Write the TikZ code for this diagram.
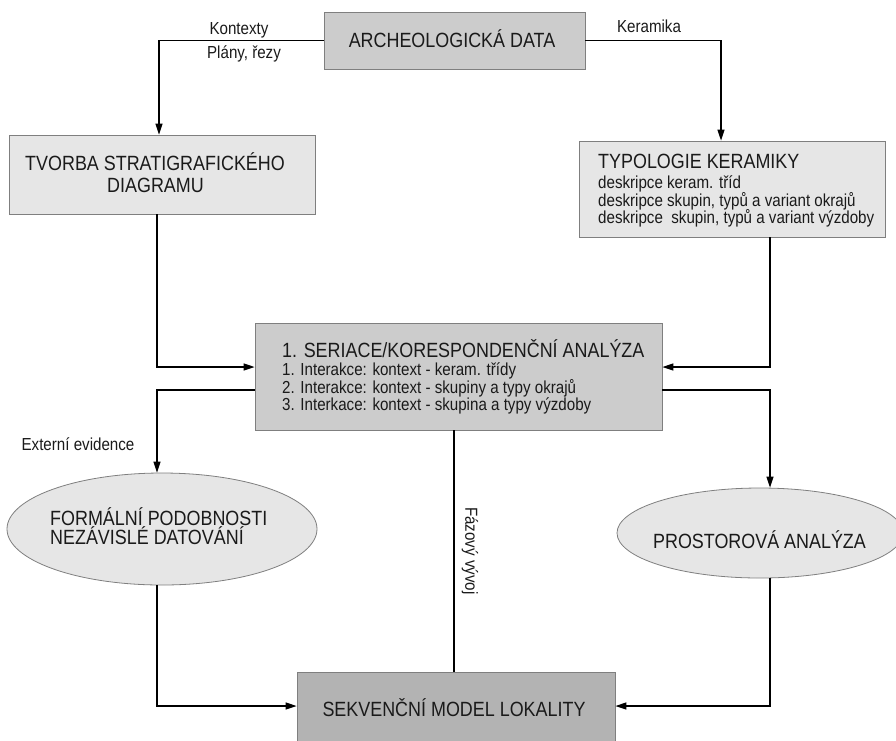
\documentclass[tikz,border=0pt]{standalone}
\usepackage{fontspec}
\setmainfont{Liberation Sans}[FakeStretch=0.87]
\usetikzlibrary{arrows.meta,shapes.geometric}

\definecolor{edgegray}{HTML}{7F7F7F}
\definecolor{midgray}{HTML}{CCCCCC}
\definecolor{palegray}{HTML}{E6E6E6}
\definecolor{darkgray}{HTML}{B3B3B3}
\definecolor{ink}{HTML}{1A1A1A}

\newcommand\headtxt{\fontsize{20.6}{24}\selectfont}
\newcommand\notetxt{\fontsize{17.4}{20}\selectfont}

\begin{document}
\begin{tikzpicture}[x=1pt,y=-1pt,
  shapebox/.style={draw=edgegray, line width=0.8pt, rectangle, inner sep=0pt},
  oval/.style={draw=edgegray, line width=0.8pt, ellipse, inner sep=0pt, fill=palegray},
  link/.style={line width=1.2pt, draw=black},
  arr/.style={link, -{Triangle[length=11pt,width=7pt]}},
  head/.style={font=\headtxt, text=ink, inner sep=0pt, anchor=base},
  headL/.style={head, anchor=base west},
  note/.style={font=\notetxt, text=ink, inner sep=0pt, anchor=base},
  noteL/.style={note, anchor=base west},
]
\useasboundingbox (0,0) rectangle (896,740);
\clip (0,0) rectangle (896,740);

% boxes and ovals
\node[shapebox, fill=midgray, minimum width=261pt, minimum height=57pt] (arch) at (454.5,40.5) {};
\node[shapebox, fill=palegray, minimum width=306pt, minimum height=79pt] (tvorba) at (162,174.5) {};
\node[shapebox, fill=palegray, minimum width=306pt, minimum height=96pt] (typo) at (732,189) {};
\node[shapebox, fill=midgray, minimum width=407pt, minimum height=107pt] (seri) at (458.5,376.5) {};
\node[oval, minimum width=310pt, minimum height=112pt] (formal) at (162,529) {};
\node[oval, minimum width=286pt, minimum height=90pt] (prostor) at (760,533) {};
\node[shapebox, fill=darkgray, minimum width=318pt, minimum height=88pt] (sekv) at (456,716) {};

% texts inside the shapes
\node[head] (archT) at (452,47) {ARCHEOLOGICKÁ DATA};
\node[head] (tvorbaT1) at (155,170) {TVORBA STRATIGRAFICKÉHO};
\node[head] (tvorbaT2) at (155.5,192) {DIAGRAMU};
\node[headL] (typoT1) at (598,168) {TYPOLOGIE KERAMIKY};
\node[noteL] (typoT2) at (598,188) {deskripce keram. tříd};
\node[noteL] (typoT3) at (598,206) {deskripce skupin, typů a variant okrajů};
\node[noteL] (typoT4) at (598,223) {deskripce\ \ skupin, typů a variant výzdoby};
\node[headL] (seriT1) at (282,357) {1. SERIACE/KORESPONDENČNÍ ANALÝZA};
\node[noteL] (seriT2) at (282,375) {1. Interakce: kontext - keram. třídy};
\node[noteL] (seriT3) at (282,393) {2. Interakce: kontext - skupiny a typy okrajů};
\node[noteL] (seriT4) at (282,410) {3. Interkace: kontext - skupina a typy výzdoby};
\node[headL] (formalT1) at (50,525) {FORMÁLNÍ PODOBNOSTI};
\node[headL] (formalT2) at (50,544) {NEZÁVISLÉ DATOVÁNÍ};
\node[head] (prostorT) at (759.5,548) {PROSTOROVÁ ANALÝZA};
\node[head] (sekvT) at (454,716) {SEKVENČNÍ MODEL LOKALITY};

% connector labels
\node[note] (kontexty) at (239,34) {Kontexty};
\node[note] (plany) at (244,58) {Plány, řezy};
\node[note] (keramika) at (649,32) {Keramika};
\node[note] (externi) at (78,450) {Externí evidence};
\node[note, rotate=-90, anchor=center] (faze) at (470,551) {Fázový vývoj};

% connectors
\draw[arr] (arch.west) -| ([xshift=-3pt]tvorba.north);
\draw[arr] (arch.east) -| ([xshift=-11pt]typo.north);
\draw[arr] ([xshift=-5pt]tvorba.south) |- ([yshift=9.5pt]seri.west);
\draw[arr] ([xshift=38pt]typo.south) |- ([yshift=9.5pt]seri.east);
\draw[arr] ([yshift=-13.5pt]seri.west) -| ([xshift=-5pt]formal.north);
\draw[arr] ([yshift=-13.5pt]seri.east) -| ([xshift=10pt]prostor.north);
\draw[link] ([xshift=-4.5pt]seri.south) -- ([xshift=-2pt]sekv.north);
\draw[arr] ([xshift=-5pt]formal.south) |- ([yshift=10pt]sekv.west);
\draw[arr] ([xshift=10pt]prostor.south) |- ([yshift=10pt]sekv.east);
\end{tikzpicture}
\end{document}
